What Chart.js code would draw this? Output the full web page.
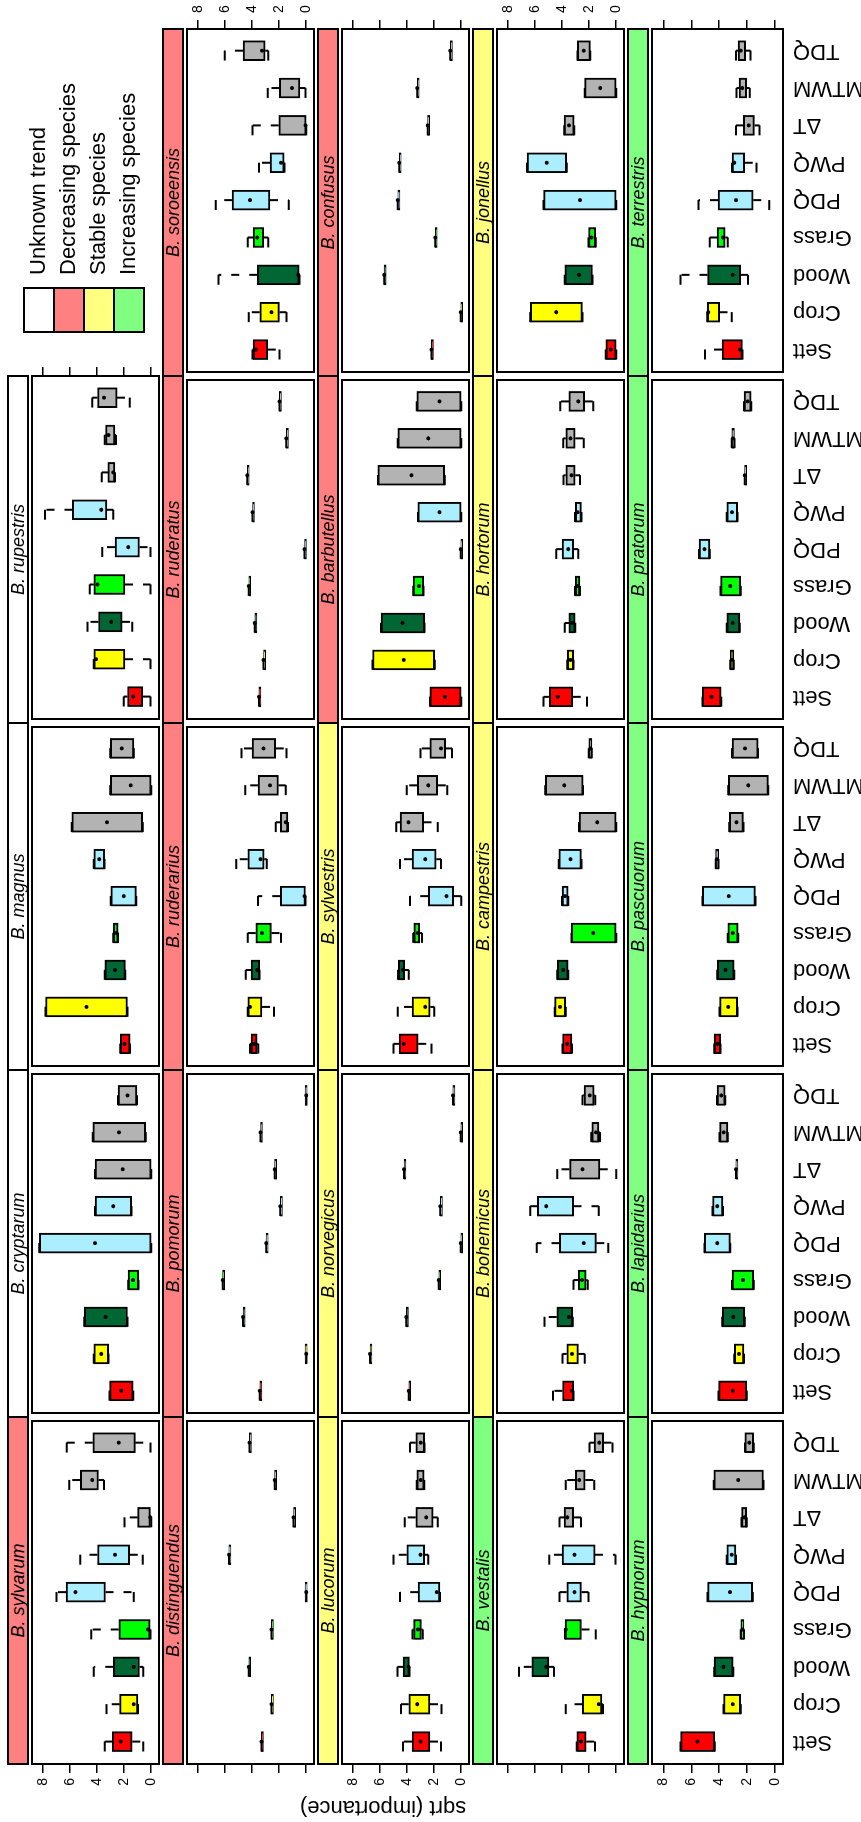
<!DOCTYPE html>
<html>
<head>
<meta charset="utf-8">
<script src="https://cdn.jsdelivr.net/npm/chart.js@4.4.1/dist/chart.umd.min.js"></script>
<style>
  html, body { margin: 0; padding: 0; background: #fff; width: 861px; height: 1822px; overflow: hidden; }
  /* the figure is laid out landscape and turned a quarter left */
  #fig { position: absolute; left: 0; top: 0; width: 1822px; height: 861px; background: #fff;
         transform-origin: 0 0; transform: translateY(1822px) rotate(-90deg);
         font-family: "Liberation Sans", Arial, Helvetica, sans-serif; color: #000; }
  #fig canvas { position: absolute; }
  .strip { position: absolute; box-sizing: border-box; border: 2px solid #000; font-style: italic;
           font-size: 18px; line-height: 18px; text-align: center; white-space: nowrap; }
  .key-box { position: absolute; box-sizing: border-box; border: 2px solid #000; }
  .key-txt { position: absolute; font-size: 22px; line-height: 22px; white-space: nowrap; }
  #ytitle { position: absolute; width: 400px; height: 24px; font-size: 22px; line-height: 24px;
            text-align: center; transform: rotate(-90deg); white-space: nowrap; }
</style>
</head>
<body>
<div id="fig"></div>
<script>
const CATS = ['Sett', 'Crop', 'Wood', 'Grass', 'PDQ', 'PWQ', 'ΔT', 'MTWM', 'TDQ'];
const CAT_COLORS = ['#FF0000', '#FFFF00', '#006633', '#00FF00', '#AAEEFF', '#AAEEFF', '#B3B3B3', '#B3B3B3', '#B3B3B3'];
const Y_TICKS = [0, 2, 4, 6, 8];
const TREND_COLORS = { unk: '#FFFFFF', dec: '#FF8080', sta: '#FFFF80', inc: '#80FF80' };
const KEY_LABELS = ['Unknown trend', 'Decreasing species', 'Stable species', 'Increasing species'];
const KEY_TRENDS = ['unk', 'dec', 'sta', 'inc'];

// each row: [low whisker, q1, median, q3, high whisker], Sett ... TDQ
const sylvarum = [[0.58,1.4,2.26,2.87,3.43],[0.98,0.98,1.28,2.33,3.31],[0.58,0.86,1.28,2.8,4.25],[0.05,0.07,0.23,2.4,4.43],[1.28,3.38,5.6,6.3,7.0],[0.63,1.59,2.68,3.97,5.25],[0,0,0.07,1.0,1.98],[3.5,3.9,4.36,5.25,6.07],[0.05,1.17,2.4,4.32,6.25]];
const cryptarum = [[1.33,1.33,2.22,3.08,3.08],[3.15,3.15,3.69,4.25,4.25],[1.75,1.75,3.38,4.95,4.95],[0.93,0.93,1.35,1.7,1.7],[0,0,4.15,8.28,8.28],[1.45,1.45,2.8,4.15,4.15],[0,0,2.1,4.15,4.15],[0.4,0.4,2.38,4.32,4.32],[1.05,1.05,1.75,2.45,2.45]];
const magnus = [[1.56,1.56,1.98,2.29,2.29],[1.75,1.75,4.78,7.82,7.82],[1.91,1.91,2.68,3.43,3.43],[2.45,2.45,2.57,2.8,2.8],[1.1,1.1,2.03,2.99,2.99],[3.45,3.45,3.85,4.25,4.25],[0.63,0.63,3.27,5.88,5.88],[0,0,1.52,3.03,3.03],[1.28,1.28,2.17,3.03,3.03]];
const rupestris = [[0.05,0.63,1.33,1.75,2.03],[0.05,1.94,4.08,4.25,4.25],[1.4,2.15,2.96,3.9,4.71],[0.05,1.94,3.97,4.25,4.55],[0.05,0.86,1.7,2.68,3.62],[2.8,3.27,3.69,5.83,7.86],[2.68,2.68,2.8,3.2,3.66],[2.6,2.68,3.15,3.38,3.43],[1.59,2.52,3.5,3.97,4.36]];

const distinguendus = [[3.31,3.31,3.31,3.31,3.31],[2.57,2.57,2.57,2.57,2.57],[4.25,4.25,4.25,4.25,4.25],[2.57,2.57,2.57,2.57,2.57],[0,0,0,0,0],[5.72,5.72,5.72,5.72,5.72],[0.93,0.93,0.93,0.93,0.93],[2.33,2.33,2.33,2.33,2.33],[4.2,4.2,4.2,4.2,4.2]];
const pomorum = [[3.43,3.43,3.43,3.43,3.43],[0,0,0,0,0],[4.67,4.67,4.67,4.67,4.67],[6.18,6.18,6.18,6.18,6.18],[2.96,2.96,2.96,2.96,2.96],[1.91,1.91,1.91,1.91,1.91],[2.33,2.33,2.33,2.33,2.33],[3.38,3.38,3.38,3.38,3.38],[0,0,0,0,0]];
const ruderarius = [[3.55,3.62,3.85,4.08,4.15],[2.38,3.27,4.15,4.32,4.32],[3.45,3.45,3.62,4.08,4.48],[1.87,2.57,3.27,3.73,4.32],[0.05,0.05,0.12,1.91,3.57],[2.92,3.1,3.38,4.32,5.18],[1.35,1.35,1.52,1.91,2.26],[1.52,2.05,2.68,3.55,4.5],[1.45,2.26,3.15,4.01,4.78]];
const ruderatus = [[3.5,3.5,3.5,3.5,3.5],[3.15,3.15,3.15,3.15,3.15],[3.8,3.8,3.8,3.8,3.8],[4.25,4.25,4.25,4.25,4.25],[0.12,0.12,0.12,0.12,0.12],[3.97,3.97,3.97,3.97,3.97],[4.36,4.36,4.36,4.36,4.36],[1.47,1.47,1.47,1.47,1.47],[1.98,1.98,1.98,1.98,1.98]];
const soroeensis = [[1.98,2.85,3.73,3.92,3.97],[1.45,1.98,2.57,3.43,4.25],[0.5,0.51,0.58,3.62,6.49],[2.8,3.15,3.62,3.92,4.32],[1.28,2.68,4.15,5.48,6.7],[1.6,1.63,1.87,2.68,3.5],[0,0,0.05,2.03,3.97],[0.05,0.47,1.05,1.98,2.85],[2.8,3.03,3.27,4.67,6.02]];

const lucorum = [[1.5,2.31,3.01,3.64,4.3],[1.45,2.31,3.25,3.88,4.46],[3.83,3.83,3.9,4.3,4.71],[2.85,2.94,3.2,3.52,3.6],[1.57,1.57,1.8,3.18,4.53],[2.43,2.71,3.01,4.02,5.0],[1.73,2.08,2.59,3.36,4.17],[2.73,2.73,3.0,3.29,3.29],[2.71,2.71,3.0,3.36,3.78]];
const norvegicus = [[3.88,3.88,3.88,3.88,3.88],[6.75,6.75,6.75,6.75,6.75],[4.06,4.06,4.06,4.06,4.06],[1.66,1.66,1.66,1.66,1.66],[0.03,0.03,0.03,0.03,0.03],[1.54,1.54,1.54,1.54,1.54],[4.23,4.23,4.23,4.23,4.23],[0.03,0.03,0.03,0.03,0.03],[0.61,0.61,0.61,0.61,0.61]];
const sylvestris = [[2.2,3.18,4.25,4.6,5.0],[2.0,2.29,2.66,3.64,4.69],[3.88,4.18,4.3,4.65,4.67],[2.9,3.08,3.22,3.5,3.55],[0,0.56,1.08,2.43,3.78],[1.5,1.85,2.66,3.64,4.53],[1.73,2.78,3.9,4.53,4.81],[1.03,1.73,2.43,3.25,4.02],[0.68,1.15,1.5,2.31,3.01]];
const barbutellus = [[0,0,1.19,2.31,2.31],[1.96,1.96,4.25,6.56,6.56],[2.71,2.71,4.34,5.93,5.93],[2.78,2.78,3.13,3.55,3.55],[0.03,0.03,0.03,0.03,0.03],[0,0,1.61,3.2,3.2],[1.22,1.22,3.67,6.16,6.16],[0,0,2.43,4.69,4.69],[0,0,1.61,3.29,3.29]];
const confusus = [[2.2,2.2,2.2,2.2,2.2],[0.03,0.03,0.03,0.03,0.03],[5.7,5.7,5.7,5.7,5.7],[1.92,1.92,1.92,1.92,1.92],[4.69,4.69,4.69,4.69,4.69],[4.58,4.58,4.58,4.58,4.58],[2.48,2.48,2.48,2.48,2.48],[3.25,3.25,3.25,3.25,3.25],[0.8,0.8,0.8,0.8,0.8]];

const vestalis = [[1.56,2.22,2.61,2.92,2.92],[0.98,1.05,1.28,2.5,3.73],[4.6,4.97,5.18,6.25,7.2],[1.52,2.57,3.73,3.78,3.78],[2.05,2.57,3.08,3.66,4.2],[0.05,1.56,3.08,4.01,4.95],[2.61,3.15,3.62,3.85,4.2],[1.63,2.29,2.73,3.03,3.73],[0.28,0.93,1.26,1.63,1.98]];
const bohemicus = [[3.15,3.15,3.27,3.97,4.67],[2.33,2.8,3.27,3.66,3.97],[3.22,3.22,3.5,4.39,5.3],[2.1,2.22,2.52,2.8,3.15],[0.58,1.47,2.4,4.2,5.88],[1.28,3.15,5.18,5.83,6.35],[0,1.21,2.5,3.45,4.36],[1.2,1.28,1.5,1.8,1.85],[1.55,1.63,1.96,2.38,2.5]];
const campestris = [[3.27,3.27,3.62,3.97,3.97],[3.73,3.73,4.15,4.55,4.55],[3.55,3.55,3.92,4.36,4.36],[0,0,1.7,3.31,3.31],[3.55,3.55,3.78,4.01,4.01],[2.57,2.57,3.38,4.25,4.25],[0,0,1.4,2.75,2.75],[2.45,2.45,3.85,5.25,5.25],[1.8,1.8,1.9,2.03,2.03]];
const hortorum = [[2.15,3.22,4.32,4.95,5.37],[3.15,3.15,3.38,3.62,3.62],[3.03,3.03,3.27,3.5,3.8],[2.68,2.68,2.9,3.03,3.05],[2.8,3.15,3.55,4.01,4.43],[2.57,2.57,2.85,3.03,3.05],[2.68,3.03,3.3,3.73,3.9],[2.4,3.03,3.38,3.73,3.92],[1.7,2.33,2.8,3.5,4.13]];
const jonellus = [[0,0,0.4,0.77,0.77],[2.5,2.5,4.43,6.35,6.35],[1.75,1.75,2.75,3.8,3.8],[1.52,1.52,1.82,2.05,2.05],[0,0,2.68,5.37,5.37],[3.66,3.66,5.13,6.6,6.6],[3.1,3.1,3.5,3.85,3.85],[0,0,1.17,2.33,2.33],[1.91,1.91,2.4,2.87,2.87]];

const hypnorum = [[4.32,4.32,5.55,6.77,6.77],[2.45,2.45,3.03,3.69,3.69],[2.99,2.99,3.69,4.36,4.36],[2.22,2.22,2.33,2.45,2.45],[1.59,1.59,3.22,4.83,4.83],[2.8,2.8,3.1,3.45,3.45],[2.03,2.03,2.2,2.4,2.4],[0.82,0.82,2.64,4.39,4.39],[1.52,1.52,1.85,2.15,2.15]];
const lapidarius = [[2.03,2.03,3.03,4.04,4.04],[2.22,2.22,2.57,2.92,2.92],[2.17,2.17,2.99,3.78,3.78],[1.52,1.52,2.29,3.08,3.08],[3.2,3.2,4.13,5.06,5.06],[3.73,3.73,4.13,4.48,4.48],[2.8,2.8,2.8,2.8,2.8],[3.38,3.38,3.67,3.97,3.97],[3.57,3.57,3.85,4.15,4.15]];
const pascuorum = [[3.9,3.9,4.1,4.36,4.36],[2.68,2.68,3.34,3.97,3.97],[2.92,2.92,3.55,4.13,4.13],[2.64,2.64,3.03,3.38,3.38],[1.4,1.4,3.31,5.2,5.2],[4.04,4.04,4.15,4.25,4.25],[2.26,2.26,2.75,3.27,3.27],[0.47,0.47,1.91,3.34,3.34],[1.21,1.21,2.15,3.08,3.08]];
const pratorum = [[3.85,3.85,4.55,5.2,5.2],[2.96,2.96,3.1,3.2,3.2],[2.52,2.52,3.03,3.45,3.45],[2.45,2.45,3.2,3.9,3.9],[4.67,4.67,5.06,5.44,5.44],[2.68,2.68,3.08,3.45,3.45],[2.17,2.17,2.17,2.17,2.17],[2.9,2.9,3.0,3.1,3.1],[1.7,1.7,1.95,2.22,2.22]];
const terrestris = [[2.33,2.33,2.5,3.8,5.02],[3.1,3.97,4.78,4.85,4.85],[1.94,2.45,3.03,4.83,6.77],[3.38,3.57,3.73,4.15,4.67],[0.4,1.56,2.8,4.08,5.48],[1.33,2.17,2.92,3.08,3.08],[1.1,1.47,1.87,2.26,2.8],[1.8,2.03,2.35,2.57,2.75],[1.75,2.1,2.45,2.65,2.8]];

// panel rows, top to bottom; the last slot of the first row holds the key
const PANEL_ROWS = [
  [['B. sylvarum', 'dec', sylvarum], ['B. cryptarum', 'unk', cryptarum], ['B. magnus', 'unk', magnus], ['B. rupestris', 'unk', rupestris], null],
  [['B. distinguendus', 'dec', distinguendus], ['B. pomorum', 'dec', pomorum], ['B. ruderarius', 'dec', ruderarius], ['B. ruderatus', 'dec', ruderatus], ['B. soroeensis', 'dec', soroeensis]],
  [['B. lucorum', 'sta', lucorum], ['B. norvegicus', 'sta', norvegicus], ['B. sylvestris', 'sta', sylvestris], ['B. barbutellus', 'dec', barbutellus], ['B. confusus', 'dec', confusus]],
  [['B. vestalis', 'inc', vestalis], ['B. bohemicus', 'sta', bohemicus], ['B. campestris', 'sta', campestris], ['B. hortorum', 'sta', hortorum], ['B. jonellus', 'sta', jonellus]],
  [['B. hypnorum', 'inc', hypnorum], ['B. lapidarius', 'inc', lapidarius], ['B. pascuorum', 'inc', pascuorum], ['B. pratorum', 'inc', pratorum], ['B. terrestris', 'inc', terrestris]]
];

const FONT = '"Liberation Sans", Arial, Helvetica, sans-serif';
Chart.defaults.font.family = FONT;
Chart.defaults.color = '#000';

const COL_X = [58, 405, 752, 1099, 1446];
const ROW_Y = [8, 163, 318, 473, 628];
const PW = 347, PH = 135, STRIP_H = 20;
const Y_MIN = -0.58, Y_MAX = 8.82;
const X_MIN = 0.4, X_MAX = 9.58;
const CAP = 0.265;

const fig = document.getElementById('fig');

const framePlugin = {
  id: 'frame',
  afterDatasetsDraw(chart) {
    const { ctx, chartArea: a } = chart;
    ctx.save();
    ctx.strokeStyle = '#000';
    ctx.lineWidth = 2;
    ctx.strokeRect(a.left, a.top, a.width, a.height);
    ctx.restore();
  }
};

const valueAxis = (position, show, labels, width) => ({
  type: 'linear',
  position: position,
  min: Y_MIN,
  max: Y_MAX,
  display: show,
  afterBuildTicks: s => { s.ticks = Y_TICKS.map(v => ({ value: v })); },
  afterFit: s => { s.width = width; s.paddingTop = 0; s.paddingBottom = 0; },
  ticks: { display: labels, font: { size: 14 }, color: '#000', padding: position === 'left' ? 5 : 7 },
  grid: { drawOnChartArea: false, drawTicks: true, tickLength: 9, color: '#000', lineWidth: 1.5 },
  border: { display: false }
});

function makePanel(panel, r, c) {
  const [name, trend, stats] = panel;

  const strip = document.createElement('div');
  strip.className = 'strip';
  strip.style.left = (COL_X[c] - 1) + 'px';
  strip.style.top = (ROW_Y[r] - 1) + 'px';
  strip.style.width = (PW + 2) + 'px';
  strip.style.height = (STRIP_H + 2) + 'px';
  strip.style.background = TREND_COLORS[trend];
  strip.textContent = name;
  fig.appendChild(strip);

  const ML = c === 0 ? 58 : 0;
  const MR = (c === 4 || (r === 0 && c === 3)) ? 29 : 0;
  const MB = r === 4 ? 78 : 0;

  const cv = document.createElement('canvas');
  cv.width = PW + ML + MR;
  cv.height = PH + MB;
  cv.style.left = (COL_X[c] - ML) + 'px';
  cv.style.top = (ROW_Y[r] + STRIP_H) + 'px';
  fig.appendChild(cv);

  const boxes = [], whiskers = [], caps = [], medians = [];
  stats.forEach((s, i) => {
    const x = i + 1;
    boxes.push({ x: x, y: [s[1], s[3]] });
    medians.push({ x: x, y: s[2] });
    whiskers.push({ x: x, y: s[3] }, { x: x, y: s[4] }, { x: x, y: null },
                  { x: x, y: s[1] }, { x: x, y: s[0] }, { x: x, y: null });
    caps.push({ x: x - CAP, y: s[4] }, { x: x + CAP, y: s[4] }, { x: x, y: null },
              { x: x - CAP, y: s[0] }, { x: x + CAP, y: s[0] }, { x: x, y: null });
  });

  new Chart(cv, {
    type: 'bar',
    data: {
      datasets: [
        { type: 'line', data: medians, showLine: false, pointRadius: 2, pointBackgroundColor: '#000',
          pointBorderWidth: 0, order: 1 },
        { type: 'line', data: whiskers, borderColor: '#000', borderWidth: 2, borderDash: [8, 10],
          pointRadius: 0, fill: false, order: 2 },
        { type: 'line', data: caps, borderColor: '#000', borderWidth: 2, borderDash: [10, 12],
          pointRadius: 0, fill: false, order: 2 },
        { type: 'bar', data: boxes, backgroundColor: CAT_COLORS, borderColor: '#000', borderWidth: 2,
          borderSkipped: false, barThickness: 20, minBarLength: 2, order: 3 }
      ]
    },
    options: {
      responsive: false,
      maintainAspectRatio: false,
      animation: false,
      events: [],
      layout: { padding: 0 },
      plugins: { legend: { display: false }, tooltip: { enabled: false } },
      scales: {
        x: {
          type: 'linear',
          min: X_MIN,
          max: X_MAX,
          offset: false,
          display: r === 4,
          afterBuildTicks: s => { s.ticks = CATS.map((_, i) => ({ value: i + 1 })); },
          afterFit: s => { s.height = MB; s.paddingLeft = 0; s.paddingRight = 0; },
          ticks: { autoSkip: false, minRotation: 90, maxRotation: 90, padding: 10,
                   font: { size: 22 }, color: '#000',
                   callback: v => CATS[Math.round(v) - 1] },
          grid: { display: false, drawTicks: false, offset: false },
          border: { display: false }
        },
        y: valueAxis('left', c === 0, r % 2 === 0, ML),
        y2: valueAxis('right', MR > 0, r % 2 === 1, MR)
      }
    },
    plugins: [framePlugin]
  });
}

PANEL_ROWS.forEach((row, r) => row.forEach((panel, c) => { if (panel) makePanel(panel, r, c); }));

// key in the empty top-right slot
KEY_TRENDS.forEach((t, i) => {
  const b = document.createElement('div');
  b.className = 'key-box';
  b.style.left = '1489px';
  b.style.top = (23 + 30 * i) + 'px';
  b.style.width = '46px';
  b.style.height = '32px';
  b.style.background = TREND_COLORS[t];
  fig.appendChild(b);
  const tx = document.createElement('div');
  tx.className = 'key-txt';
  tx.style.left = '1547px';
  tx.style.top = (27 + 30 * i) + 'px';
  tx.textContent = KEY_LABELS[i];
  fig.appendChild(tx);
});

const yt = document.createElement('div');
yt.id = 'ytitle';
yt.style.left = (14 - 200) + 'px';
yt.style.top = (383 - 12) + 'px';
yt.textContent = 'sqrt (importance)';
fig.appendChild(yt);
</script>
</body>
</html>
